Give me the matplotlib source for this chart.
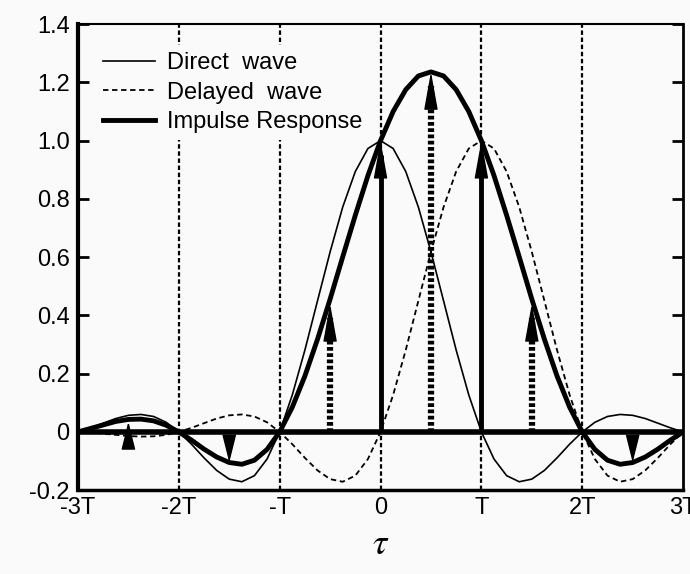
import numpy as np
import matplotlib.pyplot as plt

# tau in units of T, read every T/8
tau = np.arange(-24, 25) / 8.0

direct = [0.000, 0.014, 0.030, 0.046, 0.057, 0.060, 0.053, 0.033,
          0.000, -0.042, -0.089, -0.132, -0.162, -0.171, -0.150, -0.093,
          0.000, 0.127, 0.281, 0.450, 0.618, 0.772, 0.894, 0.973,
          1.000, 0.973, 0.894, 0.772, 0.618, 0.450, 0.281, 0.127,
          0.000, -0.093, -0.150, -0.171, -0.162, -0.132, -0.089, -0.042,
          0.000, 0.033, 0.053, 0.060, 0.057, 0.046, 0.030, 0.014,
          0.000]

delayed = [0.000, -0.002, -0.006, -0.010, -0.014, -0.016, -0.015, -0.010,
           0.000, 0.014, 0.030, 0.046, 0.057, 0.060, 0.053, 0.033,
           0.000, -0.042, -0.089, -0.132, -0.162, -0.171, -0.150, -0.093,
           0.000, 0.127, 0.281, 0.450, 0.618, 0.772, 0.894, 0.973,
           1.000, 0.973, 0.894, 0.772, 0.618, 0.450, 0.281, 0.127,
           0.000, -0.093, -0.150, -0.171, -0.162, -0.132, -0.089, -0.042,
           0.000]

impulse = [0.000, 0.012, 0.024, 0.036, 0.043, 0.044, 0.038, 0.023,
           0.000, -0.028, -0.059, -0.086, -0.105, -0.111, -0.097, -0.060,
           0.000, 0.085, 0.192, 0.318, 0.456, 0.601, 0.744, 0.880,
           1.000, 1.100, 1.175, 1.222, 1.236, 1.222, 1.175, 1.100,
           1.000, 0.880, 0.744, 0.601, 0.456, 0.318, 0.192, 0.085,
           0.000, -0.060, -0.097, -0.111, -0.105, -0.086, -0.059, -0.028,
           0.000]

# sample impulses
solid_pos = [0.0, 1.0]
solid_val = [1.0, 1.0]
dotted_pos = [-0.5, 0.5, 1.5]
dotted_val = [0.44, 1.236, 0.44]
small_pos = [-2.5, -1.5, 2.5]
small_val = [0.035, -0.105, -0.105]

xtick_pos = [-3, -2, -1, 0, 1, 2, 3]
xtick_lab = ['-3T', '-2T', '-T', '0', 'T', '2T', '3T']
ytick_pos = [-0.2, 0, 0.2, 0.4, 0.6, 0.8, 1.0, 1.2, 1.4]
ytick_lab = ['-0.2', '0', '0.2', '0.4', '0.6', '0.8', '1.0', '1.2', '1.4']

plt.rcParams['font.family'] = ['Liberation Sans', 'DejaVu Sans']
plt.rcParams['mathtext.fontset'] = 'stix'

bg = '#fafafa'
fig = plt.figure(figsize=(6.9, 5.74), dpi=100, facecolor=bg)
ax = fig.add_axes([0.113, 0.146, 0.877, 0.812], facecolor=bg)

# vertical dotted grid
for x in [-2, -1, 0, 1, 2]:
    ax.axvline(x, color='k', lw=1.6, ls=(0, (2, 1.2)), zorder=1)

ax.axhline(0, color='k', lw=4, zorder=3)

ax.plot(tau, direct, color='k', lw=1.2, zorder=4, label='Direct  wave')
ax.plot(tau, delayed, color='k', lw=1.3, ls=(0, (3, 2)), zorder=4, label='Delayed  wave')
ax.plot(tau, impulse, color='k', lw=3.5, zorder=5, label='Impulse Response')

head = dict(arrowstyle='-|>,head_length=1.0,head_width=0.18', color='k', lw=1,
            mutation_scale=24, shrinkA=0, shrinkB=0)
small_head = dict(arrowstyle='-|>,head_length=0.8,head_width=0.2', color='k', lw=1,
                  mutation_scale=22, shrinkA=0, shrinkB=0)

for x, v in zip(solid_pos, solid_val):
    ax.plot([x, x], [0, v - 0.05], color='k', lw=3.5, zorder=6, solid_capstyle='butt')
    ax.annotate('', xy=(x, v), xytext=(x, v - 0.09), arrowprops=head, zorder=7)

for x, v in zip(dotted_pos, dotted_val):
    ax.plot([x, x], [0, v - 0.05], color='k', lw=4.5, ls=(0, (0.6, 0.4)), zorder=6)
    ax.annotate('', xy=(x, v), xytext=(x, v - 0.09), arrowprops=head, zorder=7)

for x, v in zip(small_pos, small_val):
    ax.annotate('', xy=(x, v), xytext=(x, v - np.sign(v) * 0.065),
                arrowprops=small_head, zorder=7)

ax.set_xlim(-3, 3)
ax.set_ylim(-0.2, 1.4)
ax.set_xticks(xtick_pos)
ax.set_xticklabels(xtick_lab)
ax.set_yticks(ytick_pos)
ax.set_yticklabels(ytick_lab)
ax.tick_params(axis='x', length=0, pad=5, labelsize=17)
ax.tick_params(axis='y', direction='in', length=8, width=2, pad=6,
               labelsize=17, right=True)

ax.spines['left'].set_linewidth(3)
ax.spines['bottom'].set_linewidth(2.5)
ax.spines['top'].set_linewidth(1.5)
ax.spines['right'].set_linewidth(2)

ax.set_xlabel(r'$\tau$', fontsize=26, labelpad=6)

leg = ax.legend(loc='upper left', bbox_to_anchor=(0.03, 0.955), frameon=True,
                fontsize=17, handlelength=2.2, handletextpad=0.5,
                labelspacing=0.32, borderpad=0.3, borderaxespad=0)
leg.get_frame().set_facecolor(bg)
leg.get_frame().set_edgecolor('none')
leg.get_frame().set_alpha(1)
leg.set_zorder(10)

fig.savefig('out.png', dpi=100, facecolor=bg)
